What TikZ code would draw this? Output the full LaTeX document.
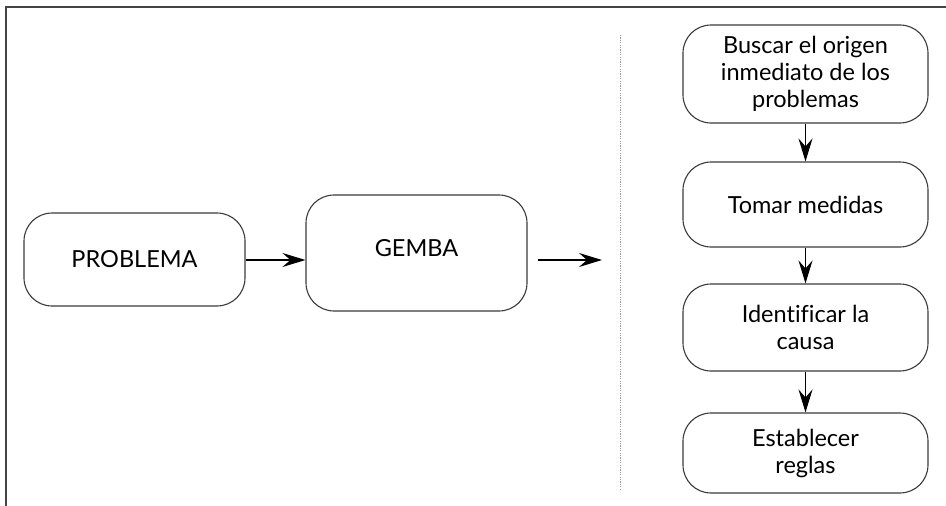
\documentclass[tikz,border=0pt]{standalone}
\usepackage{fontspec}
\setmainfont{Lato}[Ligatures=CommonOff]
\usetikzlibrary{arrows.meta}
\definecolor{framegray}{HTML}{444444}
\definecolor{boxgray}{HTML}{3A3A3A}
\definecolor{dotgray}{HTML}{999999}
\tikzset{
  flowbox/.style={draw=boxgray, line width=1.1pt, rounded corners=28pt,
    align=center, inner sep=0pt, font=\fontsize{23.5}{27}\selectfont},
  flowarrow/.style={draw=black, line width=1.2pt,
    -{Stealth[length=23pt, width=14pt, inset=8pt]}},
}
\begin{document}
\begin{tikzpicture}[x=1pt, y=-1pt]
  \useasboundingbox (0,0) rectangle (946,506);
  % outer frame: top and left edges only
  \draw[framegray, line width=2pt] (6,506) -- (6,7) -- (946,7);
  % separator between the two halves
  \draw[dotgray, line width=1pt, dash pattern=on 1.2pt off 1.2pt] (620,35) -- (620,490);

  % left-hand flow
  \node[flowbox, minimum width=221pt, minimum height=93pt] (prob) at (134.5,259.5) {PROBLEMA};
  \node[flowbox, minimum width=221pt, minimum height=116pt, text depth=10pt] (gemba) at (416.5,253) {GEMBA};
  \coordinate (gout) at (538,260);
  \coordinate (gend) at (602,260);

  % right-hand steps
  \node[flowbox, minimum width=245pt, minimum height=98pt] (b1) at (805.5,74) {Buscar el origen\\inmediato de los\\problemas};
  \node[flowbox, minimum width=245pt, minimum height=85pt] (b2) at (805.5,204.5) {Tomar medidas};
  \node[flowbox, minimum width=245pt, minimum height=87pt] (b3) at (805.5,327.5) {Identificar la\\causa};
  \node[flowbox, minimum width=245pt, minimum height=80pt] (b4) at (805.5,453) {Establecer\\reglas};

  % connectors
  \draw[flowarrow] (prob.east |- 0,260) -- (gemba.west |- 0,260);
  \draw[flowarrow] (gout) -- (gend);
  \draw[flowarrow] (b1.south) -- (b2.north);
  \draw[flowarrow] (b2.south) -- (b3.north);
  \draw[flowarrow] (b3.south) -- (b4.north);
\end{tikzpicture}
\end{document}
